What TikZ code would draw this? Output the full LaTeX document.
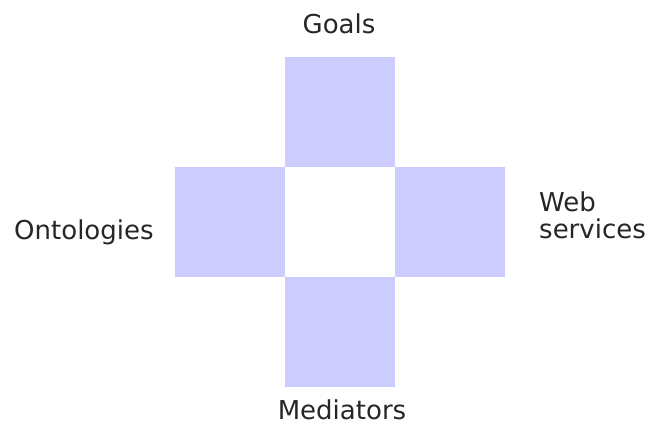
\documentclass[tikz,border=0pt]{standalone}
\usepackage{fontspec}
\setmainfont{DejaVu Sans}
\usetikzlibrary{positioning}

\definecolor{lavender}{RGB}{204,204,255}

\begin{document}
\begin{tikzpicture}[
  x=1pt, y=1pt,
  font=\fontsize{26}{27}\selectfont,
  cell/.style={minimum size=110pt, inner sep=0pt, outer sep=0pt},
  arm/.style={cell, fill=lavender},
  lbl/.style={inner sep=0pt, text=black!85}
]
\useasboundingbox (0,0) rectangle (652,-426);

% the white hub and its four arms
\node[cell] (hub) at (340,-222) {};
\node[arm, above=0pt of hub] (goals) {};
\node[arm, below=0pt of hub] (med) {};
\node[arm, left=0pt of hub]  (onto) {};
\node[arm, right=0pt of hub] (ws) {};

\node[lbl, anchor=base]      (tgoals) at (339,-33)  {Goals};
\node[lbl, anchor=base]      (tmed)   at (342,-419) {Mediators};
\node[lbl, anchor=base west] (tonto)  at (14,-239)  {Ontologies};
\node[lbl, anchor=north west, align=left] (tws) at (539,-192) {Web\\services};
\end{tikzpicture}
\end{document}
